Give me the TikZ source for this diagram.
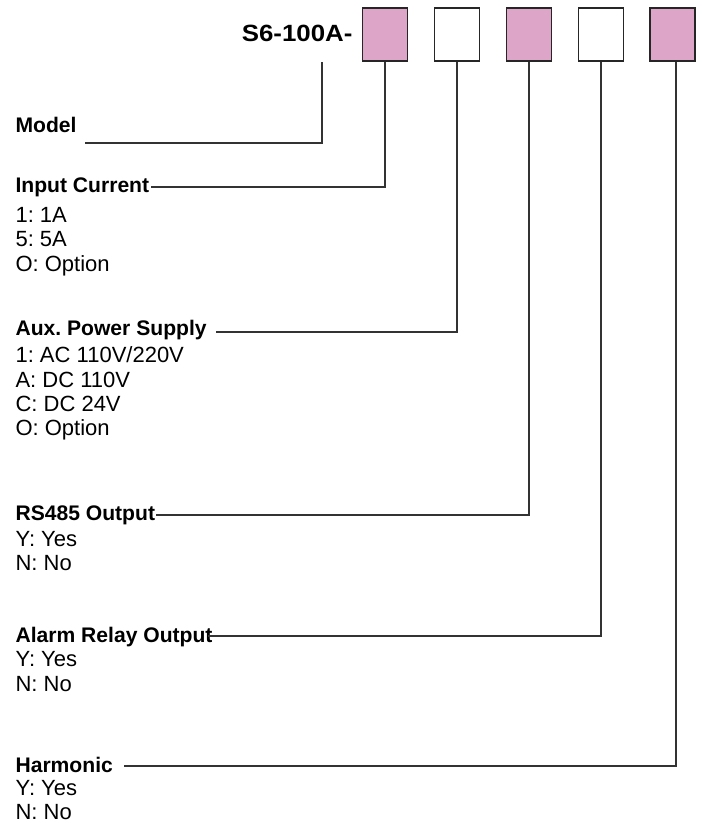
\documentclass[tikz,border=0pt]{standalone}
\usepackage{fontspec}
\setmainfont{Liberation Sans}
\usetikzlibrary{positioning}
\definecolor{codepink}{RGB}{221,166,200}
\frenchspacing
\tikzset{every picture/.style={line width=1.1pt}}
\tikzset{
  codebox/.style={draw=black!85, line width=1.4pt, minimum width=45pt, minimum height=53pt, inner sep=0pt},
  head/.style={anchor=base west, inner sep=0pt, font=\fontsize{21.1}{24}\selectfont\bfseries},
  opts/.style={anchor=base west, inner sep=0pt, align=left, font=\fontsize{22}{24.2}\selectfont},
  conn/.style={draw=black!80, line width=1.1pt},
}

\begin{document}
\begin{tikzpicture}[x=1pt, y=-1pt]
    \useasboundingbox (0,0) rectangle (702,823);
    % code and the five boxes
    \node[anchor=base east, inner sep=0pt, font=\fontsize{23.5}{26}\selectfont\bfseries] (code) at (353,41) {\scalebox{1.1}[1]{S6-100A-}};
    \node[codebox, fill=codepink] (b1) at (385,34.5) {};
    \node[codebox] (b2) at (457,34.5) {};
    \node[codebox, fill=codepink] (b3) at (529,34.5) {};
    \node[codebox] (b4) at (601,34.5) {};
    \node[codebox, fill=codepink] (b5) at (672.5,34.5) {};
    \coordinate (mstem) at (322,62);
    % headings
    \node[head] (model) at (15,132) {Model};
    \node[head] (input) at (15,192) {Input Current};
    \node[head] (aux) at (15,335) {Aux. Power Supply};
    \node[head] (rs) at (15,520) {RS485 Output};
    \node[head] (alarm) at (15,642) {Alarm Relay Output};
    \node[head] (harm) at (15,772) {Harmonic};
    % options (placed by the baseline of their last line)
    \node[opts] (inputopt) at (15,271) {1: 1A\\5: 5A\\O: Option};
    \node[opts] (auxopt) at (15,435.5) {1: AC 110V/220V\\A: DC 110V\\C: DC 24V\\O: Option};
    \node[opts] (rsopt) at (15,570.5) {Y: Yes\\N: No};
    \node[opts] (alarmopt) at (15,691) {Y: Yes\\N: No};
    \node[opts] (harmopt) at (15,819.5) {Y: Yes\\N: No};
    % leader lines
    \draw[conn] (mstem) |- ([shift={(8pt,-11pt)}]model.base east);
    \draw[conn] (b1.south) |- ([shift={(1.5pt,5pt)}]input.base east);
    \draw[conn] (b2.south) |- ([shift={(9pt,3pt)}]aux.base east);
    \draw[conn] (b3.south) |- ([shift={(0pt,5pt)}]rs.base east);
    \draw[conn] (b4.south) |- ([shift={(-5pt,6pt)}]alarm.base east);
    \draw[conn] ([xshift=3.5pt]b5.south) |- ([shift={(11pt,6pt)}]harm.base east);
\end{tikzpicture}
\end{document}
